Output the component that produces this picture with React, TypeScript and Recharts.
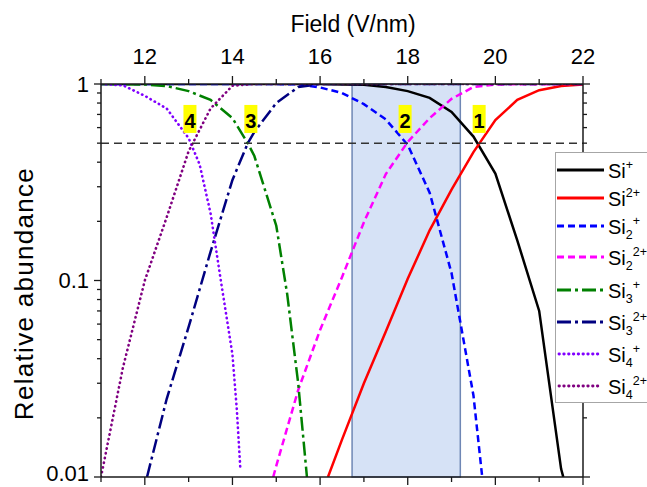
import React from "react";
import {
  LineChart,
  Line,
  XAxis,
  YAxis,
  ReferenceArea,
  ReferenceLine,
  ReferenceDot,
  Legend,
  Label,
} from "recharts";

const FONT = "'Liberation Sans', Arial, sans-serif";

// field (V/nm) and relative abundance per ion
const siPField = [11, 16, 16.5, 17, 17.5, 18, 18.5, 19, 19.5, 20, 20.5, 21, 21.5, 21.55];
const siPAbund = [1, 1, 0.995, 0.99, 0.965, 0.92, 0.85, 0.72, 0.54, 0.35, 0.16, 0.07, 0.011, 0.01];

const si2PField = [16.18, 16.5, 17, 17.5, 18, 18.5, 19, 19.5, 20, 20.5, 21, 21.5, 22];
const si2PAbund = [0.01, 0.0155, 0.03, 0.055, 0.102, 0.18, 0.29, 0.45, 0.655, 0.83, 0.93, 0.977, 0.995];

const si2dPField = [11, 15, 15.5, 16, 16.5, 17, 17.5, 18, 18.5, 19, 19.5, 19.7];
const si2dPAbund = [1, 1, 0.995, 0.96, 0.9, 0.79, 0.66, 0.49, 0.28, 0.109, 0.026, 0.01];

const si2d2PField = [14.93, 15, 15.5, 16, 16.5, 17, 17.5, 18, 18.5, 19, 19.5, 20, 22];
const si2d2PAbund = [0.01, 0.0114, 0.0277, 0.056, 0.104, 0.198, 0.348, 0.507, 0.67, 0.84, 0.965, 0.995, 1];

const si3PField = [11, 12, 12.5, 13, 13.5, 14, 14.35, 14.5, 15, 15.25, 15.5, 15.7];
const si3PAbund = [1, 0.995, 0.976, 0.92, 0.83, 0.67, 0.5, 0.43, 0.19, 0.085, 0.03, 0.01];

const si32PField = [12.05, 12.5, 13, 13.5, 14, 14.35, 14.5, 15, 15.5, 16, 22];
const si32PAbund = [0.01, 0.025, 0.058, 0.14, 0.325, 0.5, 0.57, 0.8, 0.965, 1, 1];

const si4PField = [11, 11.5, 12, 12.5, 13, 13.25, 13.5, 13.75, 14, 14.1, 14.18];
const si4PAbund = [1, 0.985, 0.87, 0.75, 0.53, 0.39, 0.22, 0.095, 0.042, 0.022, 0.011];

const si42PField = [11, 11.5, 12, 12.5, 13, 13.5, 14, 14.5, 22];
const si42PAbund = [0.01, 0.036, 0.1, 0.21, 0.455, 0.75, 0.98, 1, 1];

// window shaded in blue and the 0.5 threshold
const bandField = [16.73, 19.2];
const halfLevel = 0.5;

// numbered crossing markers
const markerText = ["1", "2", "3", "4"];
const markerField = [19.63, 17.94, 14.42, 13.03];
const markerAbund = 0.664;

const fieldTicks = [11, 12, 13, 14, 15, 16, 17, 18, 19, 20, 21, 22];
const fieldLabels = [12, 14, 16, 18, 20, 22];
const abundTicks = [
  0.01, 0.02, 0.03, 0.04, 0.05, 0.06, 0.07, 0.08, 0.09,
  0.1, 0.2, 0.3, 0.4, 0.5, 0.6, 0.7, 0.8, 0.9, 1,
];
const abundLabels = [0.01, 0.1, 1];

const zip = (xs: number[], ys: number[]) => xs.map((x, i) => ({ x, y: ys[i] }));

type Series = {
  key: string;
  base: string;
  sub?: string;
  sup: string;
  data: { x: number; y: number }[];
  color: string;
  dash?: string;
  dotted?: boolean;
  width: number;
};

const series: Series[] = [
  { key: "siP", base: "Si", sup: "+", data: zip(siPField, siPAbund), color: "#000000", width: 2.5 },
  { key: "si2P", base: "Si", sup: "2+", data: zip(si2PField, si2PAbund), color: "#FF0000", width: 2.5 },
  { key: "si2dP", base: "Si", sub: "2", sup: "+", data: zip(si2dPField, si2dPAbund), color: "#0000FF", dash: "7 4", width: 2.5 },
  { key: "si2d2P", base: "Si", sub: "2", sup: "2+", data: zip(si2d2PField, si2d2PAbund), color: "#FF00FF", dash: "7 4", width: 2.5 },
  { key: "si3P", base: "Si", sub: "3", sup: "+", data: zip(si3PField, si3PAbund), color: "#008000", dash: "14 4 3 4", width: 2.5 },
  { key: "si32P", base: "Si", sub: "3", sup: "2+", data: zip(si32PField, si32PAbund), color: "#000080", dash: "14 4 3 4", width: 2.5 },
  { key: "si4P", base: "Si", sub: "4", sup: "+", data: zip(si4PField, si4PAbund), color: "#8000FF", dash: "0.4 4.4", dotted: true, width: 2.6 },
  { key: "si42P", base: "Si", sub: "4", sup: "2+", data: zip(si42PField, si42PAbund), color: "#800080", dash: "0.4 4.4", dotted: true, width: 2.6 },
];

const AXIS = "#1a1a1a";

const TopTick = ({ x, y, payload }: any) => {
  const major = fieldLabels.includes(payload.value);
  return (
    <g>
      <line x1={x} x2={x} y1={y} y2={y - (major ? 8 : 5)} stroke={AXIS} strokeWidth={1.3} />
      {major && (
        <text x={x} y={y - 20} textAnchor="middle" fontSize={22} fill="#000" fontFamily={FONT}>
          {payload.value}
        </text>
      )}
    </g>
  );
};

const BottomTick = ({ x, y, payload }: any) => {
  const major = fieldLabels.includes(payload.value);
  return <line x1={x} x2={x} y1={y} y2={y + (major ? 8 : 5)} stroke={AXIS} strokeWidth={1.3} />;
};

const LeftTick = ({ x, y, payload }: any) => {
  const major = abundLabels.includes(payload.value);
  // the lowest label sits a little above its tick, as in the original
  const lift = payload.value === abundLabels[0] ? 4 : 0;
  return (
    <g>
      <line x1={x - (major ? 7 : 4)} x2={x} y1={y} y2={y} stroke={AXIS} strokeWidth={1.3} />
      {major && (
        <text x={x - 12} y={y - lift} dy="0.36em" textAnchor="end" fontSize={22} fill="#000" fontFamily={FONT}>
          {payload.value}
        </text>
      )}
    </g>
  );
};

const RightTick = ({ x, y, payload }: any) => {
  const major = abundLabels.includes(payload.value);
  return <line x1={x} x2={x + (major ? 7 : 4)} y1={y} y2={y} stroke={AXIS} strokeWidth={1.3} />;
};

const TopTitle = ({ viewBox }: any) => (
  <text
    x={viewBox.x + viewBox.width / 2 + 11}
    y={32}
    textAnchor="middle"
    fontSize={23}
    fill="#000"
    fontFamily={FONT}
  >
    Field (V/nm)
  </text>
);

const SideTitle = ({ viewBox }: any) => {
  const cx = 33;
  const cy = viewBox.y + viewBox.height / 2 + 13;
  return (
    <text
      x={cx}
      y={cy}
      transform={`rotate(-90, ${cx}, ${cy})`}
      textAnchor="middle"
      fontSize={26}
      letterSpacing={1.3}
      fill="#000"
      fontFamily={FONT}
    >
      Relative abundance
    </text>
  );
};

const Marker = (text: string) => (props: any) => {
  const { cx, cy } = props;
  return (
    <g>
      <rect x={cx - 6.5} y={cy - 14} width={13} height={28} fill="#FFFF00" />
      <text x={cx} y={cy + 9} textAnchor="middle" fontSize={20} fontWeight="bold" fill="#000" fontFamily={FONT}>
        {text}
      </text>
    </g>
  );
};

const rowY = [17, 45, 73, 104, 137, 169, 201, 233];

const LegendBox = () => (
  <div style={{ width: 92, height: 251, background: "#fff", border: "1px solid #a6a6a6", borderRight: "none", boxSizing: "border-box" }}>
    <svg width={91} height={249} style={{ display: "block", overflow: "visible" }}>
      {series.map((s, i) => (
        <g key={s.key}>
          <line
            x1={s.dotted ? 3 : 1}
            x2={s.dotted ? 45 : 48}
            y1={rowY[i]}
            y2={rowY[i]}
            stroke={s.color}
            strokeWidth={s.width + 0.3}
            strokeDasharray={s.dash}
            strokeLinecap={s.dotted ? "round" : "butt"}
          />
          <text x={52} y={rowY[i] + 8} fontSize={20} fill="#000" fontFamily={FONT}>
            {s.base}
            {s.sub && (
              <tspan fontSize={12.5} dy={5}>
                {s.sub}
              </tspan>
            )}
            <tspan fontSize={12.5} dy={s.sub ? -14 : -9}>
              {s.sup}
            </tspan>
          </text>
        </g>
      ))}
    </svg>
  </div>
);

export default function App() {
  return (
    <div
      style={{
        position: "absolute",
        left: 0,
        top: 0,
        width: 647,
        height: 487,
        overflow: "hidden",
        background: "#fff",
        fontFamily: FONT,
      }}
    >
      <LineChart width={647} height={487} margin={{ top: 0, right: 54, bottom: 0, left: 0 }}>
        <XAxis
          xAxisId="top"
          orientation="top"
          type="number"
          dataKey="x"
          domain={[11, 22]}
          ticks={fieldTicks}
          interval={0}
          height={84}
          tickSize={0}
          tickMargin={0}
          tickLine={false}
          axisLine={{ stroke: AXIS, strokeWidth: 1.5 }}
          tick={<TopTick />}
          allowDataOverflow
        >
          <Label content={<TopTitle />} />
        </XAxis>
        <XAxis
          xAxisId="bottom"
          orientation="bottom"
          type="number"
          dataKey="x"
          domain={[11, 22]}
          ticks={fieldTicks}
          interval={0}
          height={10}
          tickSize={0}
          tickMargin={0}
          tickLine={false}
          axisLine={{ stroke: AXIS, strokeWidth: 1.5 }}
          tick={<BottomTick />}
          allowDataOverflow
        />
        <YAxis
          yAxisId="left"
          orientation="left"
          scale="log"
          type="number"
          domain={[0.01, 1]}
          ticks={abundTicks}
          interval={0}
          width={101}
          tickSize={0}
          tickMargin={0}
          tickLine={false}
          axisLine={{ stroke: AXIS, strokeWidth: 1.5 }}
          tick={<LeftTick />}
          allowDataOverflow
        >
          <Label content={<SideTitle />} />
        </YAxis>
        <YAxis
          yAxisId="right"
          orientation="right"
          scale="log"
          type="number"
          domain={[0.01, 1]}
          ticks={abundTicks}
          interval={0}
          width={10}
          tickSize={0}
          tickMargin={0}
          tickLine={false}
          axisLine={{ stroke: AXIS, strokeWidth: 1.5 }}
          tick={<RightTick />}
          allowDataOverflow
        />

        <ReferenceArea
          xAxisId="bottom"
          yAxisId="left"
          x1={bandField[0]}
          x2={bandField[1]}
          fill="#D6E2F6"
          fillOpacity={1}
          stroke="#6F87B5"
          strokeWidth={1.5}
        />

        {series.map((s) => (
          <Line
            key={s.key}
            xAxisId="bottom"
            yAxisId="left"
            data={s.data}
            dataKey="y"
            type="linear"
            stroke={s.color}
            strokeWidth={s.width}
            strokeDasharray={s.dash}
            strokeLinecap={s.dotted ? "round" : "butt"}
            dot={false}
            activeDot={false}
            isAnimationActive={false}
          />
        ))}

        <ReferenceLine
          xAxisId="bottom"
          yAxisId="left"
          y={halfLevel}
          stroke="#333"
          strokeWidth={1.5}
          strokeDasharray="8 5"
        />

        {markerText.map((t, i) => (
          <ReferenceDot
            key={t}
            xAxisId="bottom"
            yAxisId="left"
            x={markerField[i]}
            y={markerAbund}
            shape={Marker(t)}
          />
        ))}

        <Legend
          layout="horizontal"
          verticalAlign="middle"
          align="center"
          wrapperStyle={{ left: 555, top: 152, width: 92, height: 251 }}
          content={<LegendBox />}
        />
      </LineChart>
    </div>
  );
}
